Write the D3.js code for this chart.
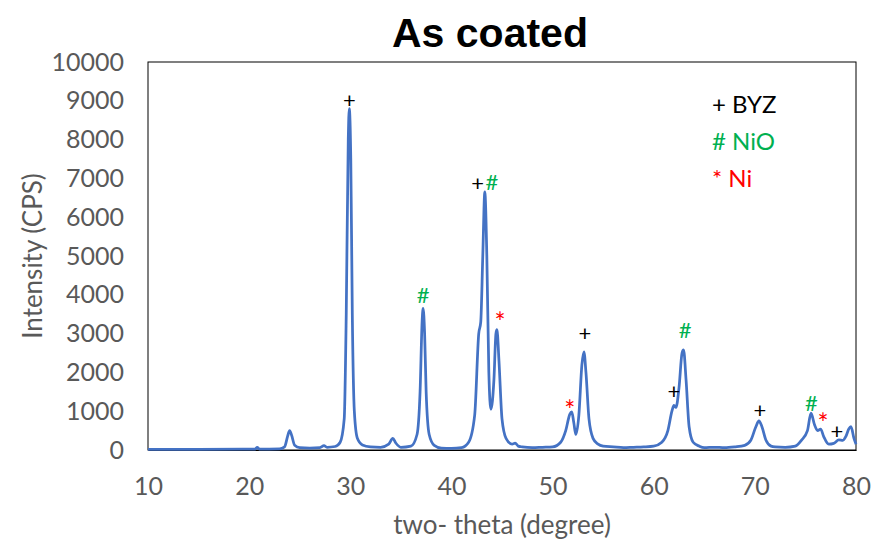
<!DOCTYPE html>
<html>
<head>
<meta charset="utf-8">
<script src="https://cdn.jsdelivr.net/npm/d3@7"></script>
<style>
  body { margin: 0; background: #fff; }
  svg { display: block; }
</style>
</head>
<body>
<svg id="chart" width="884" height="548"></svg>
<script>
// XRD pattern
var twoTheta = [10, 15, 20, 20.6, 20.8, 21.0, 23.0, 23.5, 23.8, 24.0, 24.2, 24.5, 25.0, 26, 27, 27.4, 27.7, 28.5,
  29.0, 29.4, 29.6, 29.8, 29.9, 30.05, 30.2, 30.4, 30.7, 31.2, 32, 33, 33.8, 34.2, 34.5, 35, 36, 36.6, 36.9,
  37.1, 37.2, 37.35, 37.5, 37.8, 38.3, 39, 40, 41, 41.7, 42.3, 42.7, 42.9, 43.1, 43.3, 43.5, 43.7, 43.9, 44.2,
  44.4, 44.5, 44.7, 45.0, 45.4, 46.0, 46.3, 46.6, 47, 48, 49, 50, 50.8, 51.3, 51.7, 51.9, 52.1, 52.3, 52.6,
  52.9, 53.1, 53.3, 53.6, 54.0, 54.5, 55, 56, 57, 58, 59, 60, 60.8, 61.4, 61.8, 62.0, 62.2, 62.5, 62.8, 62.95,
  63.2, 63.5, 63.9, 64.5, 65, 66, 67, 68, 69, 69.6, 70.1, 70.4, 70.7, 71.1, 71.6, 72, 73, 74, 74.6, 75.2,
  75.55, 75.9, 76.2, 76.5, 76.8, 77.3, 77.8, 78.3, 78.7, 79.0, 79.3, 79.5, 79.8, 80]
var intensity = [15, 18, 20, 25, 70, 25, 30, 80, 350, 500, 380, 120, 60, 50, 60, 110, 70, 90,
  200, 800, 3500, 8000, 8800, 7500, 3500, 1000, 300, 130, 80, 70, 150, 300, 180, 70, 100, 400, 1500,
  3300, 3650, 3000, 1500, 400, 120, 50, 40, 60, 200, 900, 3000, 3300, 5000, 6650, 5000, 2000, 1050, 1800,
  3000, 3100, 2300, 800, 300, 150, 180, 100, 80, 60, 70, 80, 200, 500, 920, 980, 700, 400, 900,
  2200, 2530, 2000, 800, 300, 150, 100, 80, 60, 70, 80, 100, 200, 500, 1000, 1150, 1100, 1600, 2500, 2580,
  1800, 600, 200, 100, 60, 70, 60, 80, 120, 250, 600, 750, 600, 250, 100, 80, 70, 100, 250, 500,
  950, 650, 500, 540, 350, 150, 170, 260, 250, 350, 550, 600, 300, 150]

// peak markers
var markText = ["+", "#", "+", "#", "*", "*", "+", "+", "#", "+", "#", "*", "+"]
var markX = [29.9, 37.2, 42.6, 44.0, 44.8, 51.7, 53.2, 62.0, 63.1, 70.5, 75.6, 76.75, 78.1]
var markY = [9020, 3995, 6880, 6900, 3400, 1130, 3015, 1520, 3090, 1030, 1210, 800, 490]
var markType = ["BYZ", "NiO", "BYZ", "NiO", "Ni", "Ni", "BYZ", "BYZ", "NiO", "BYZ", "NiO", "Ni", "BYZ"]

var legendSym = ["+", "#", "*"]
var legendName = ["BYZ", "NiO", "Ni"]

var xTicks = [10, 20, 30, 40, 50, 60, 70, 80]
var yTicks = [0, 1000, 2000, 3000, 4000, 5000, 6000, 7000, 8000, 9000, 10000]

var svg = d3.select("#chart"),
    margin = { top: 62, left: 148, bottom: 98, right: 28 },
    width = +svg.attr("width"),
    height = +svg.attr("height");

var x = d3.scaleLinear().domain([10, 80]).range([margin.left, width - margin.right])
var y = d3.scaleLinear().domain([0, 10000]).range([height - margin.bottom, margin.top])

var colour = d3.scaleOrdinal().domain(legendName).range(["#000000", "#00B050", "#FF0000"])

var font = "Lato, 'Open Sans', sans-serif"

// title
svg.append("text")
    .attr("x", 490).attr("y", 47)
    .attr("text-anchor", "middle")
    .style("font-family", "'Liberation Sans', Arial, sans-serif")
    .style("font-weight", "bold")
    .style("font-size", "41px")
    .text("As coated")

// plot frame
svg.append("rect")
    .attr("x", x(10)).attr("y", y(10000))
    .attr("width", x(80) - x(10)).attr("height", y(0) - y(10000))
    .attr("fill", "none").attr("stroke", "#000").attr("stroke-width", 1)

// axes
var xAxis = svg.append("g")
    .attr("transform", `translate(0,${y(0)})`)
    .call(d3.axisBottom(x).tickValues(xTicks).tickSize(0).tickPadding(27))
xAxis.select(".domain").attr("stroke", "#000")

var yAxis = svg.append("g")
    .attr("transform", `translate(${x(10)},0)`)
    .call(d3.axisLeft(y).tickValues(yTicks).tickFormat(d3.format("d")).tickSize(0).tickPadding(24))
yAxis.select(".domain").remove()

svg.selectAll(".tick text")
    .attr("fill", "#595959")
    .style("font-family", font)
    .style("font-size", "25px")

// axis titles
svg.append("text")
    .attr("x", 502).attr("y", 534)
    .attr("text-anchor", "middle")
    .attr("fill", "#595959")
    .style("font-family", font)
    .style("font-size", "26px")
    .text("two- theta (degree)")

svg.append("text")
    .attr("transform", "translate(42,256) rotate(-90)")
    .attr("text-anchor", "middle")
    .attr("fill", "#595959")
    .style("font-family", font)
    .style("font-size", "26px")
    .text("Intensity (CPS)")

// pattern
var line = d3.line()
    .x((d, i) => x(twoTheta[i]))
    .y(d => y(d))
    .curve(d3.curveMonotoneX)

svg.append("path")
    .datum(intensity)
    .attr("fill", "none")
    .attr("stroke", "#4472C4")
    .attr("stroke-width", 2.75)
    .attr("stroke-linejoin", "round")
    .attr("d", line)

// markers above peaks
svg.selectAll(".mark")
    .data(markText)
    .enter().append("text")
    .attr("class", "mark")
    .attr("x", (d, i) => x(markX[i]))
    .attr("y", (d, i) => y(markY[i]) + (d == "*" ? 14 : 8))
    .attr("text-anchor", "middle")
    .attr("fill", (d, i) => colour(markType[i]))
    .style("font-family", font)
    .style("font-size", d => d == "*" ? "26px" : "22px")
    .text(d => d)

// legend
var legend = svg.selectAll(".legend")
    .data(legendName)
    .enter().append("text")
    .attr("class", "legend")
    .attr("x", 712)
    .attr("y", (d, i) => 113 + i * 37)
    .attr("fill", d => colour(d))
    .style("font-family", font)
    .style("font-size", "24px")
    .text((d, i) => legendSym[i] + " " + d)
</script>
</body>
</html>
